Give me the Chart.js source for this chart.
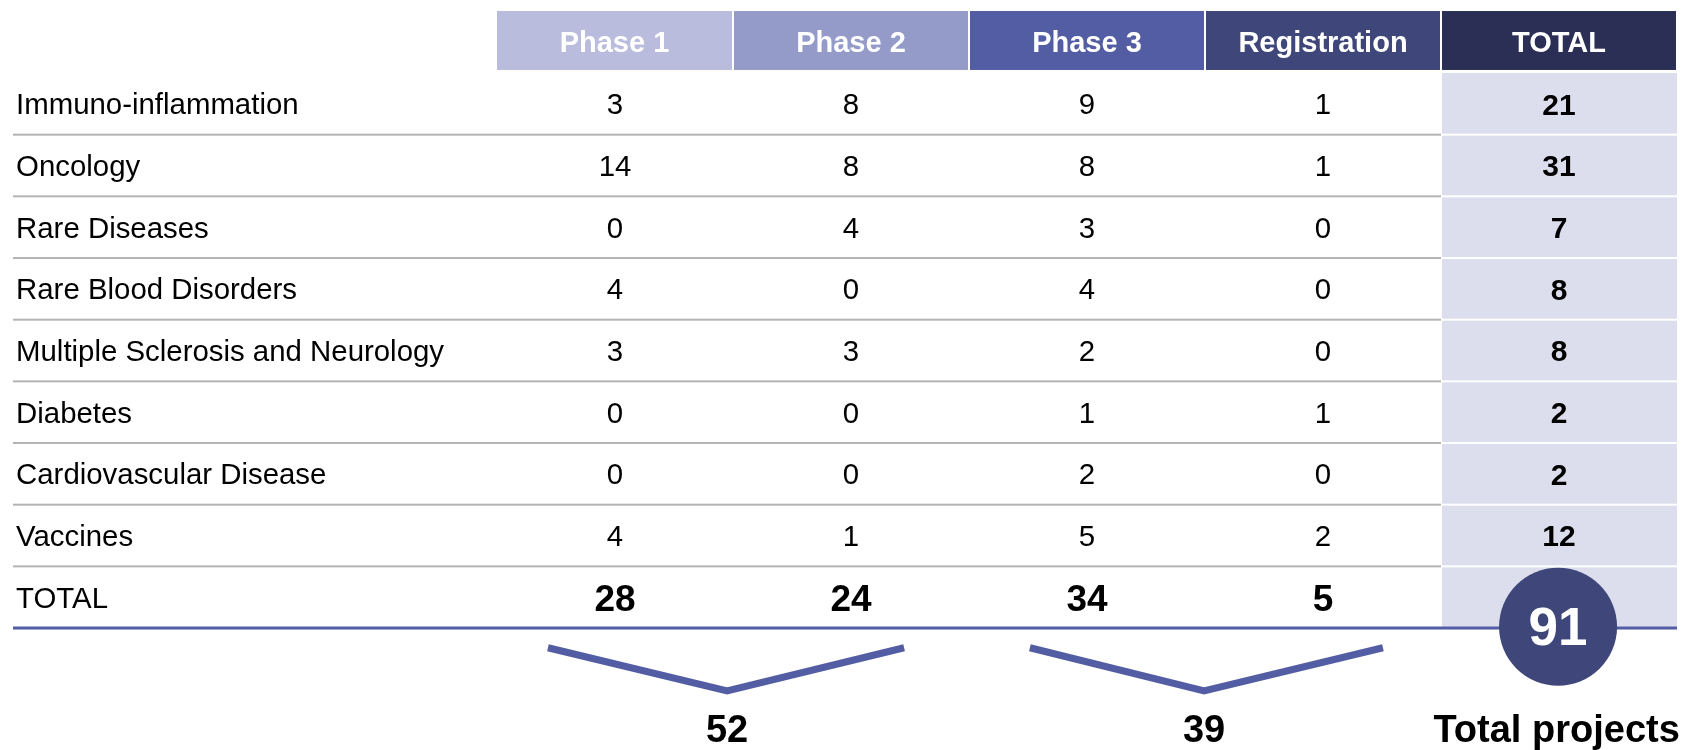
<!DOCTYPE html>
<html>
<head>
<meta charset="utf-8">
<script src="https://cdn.jsdelivr.net/npm/chart.js@4.4.1/dist/chart.umd.min.js"></script>
<style>
  html, body { margin: 0; padding: 0; background: #ffffff; }
  #wrap { width: 1687px; height: 750px; }
</style>
</head>
<body>
<div id="wrap"><canvas id="pipelineChart" width="1687" height="750"></canvas></div>
<script>
// table data
const areas = [
    "Immuno-inflammation",
    "Oncology",
    "Rare Diseases",
    "Rare Blood Disorders",
    "Multiple Sclerosis and Neurology",
    "Diabetes",
    "Cardiovascular Disease",
    "Vaccines"
];
const columns = ["Phase 1", "Phase 2", "Phase 3", "Registration", "TOTAL"];
const phase1 = [3, 14, 0, 4, 3, 0, 0, 4];
const phase2 = [8, 8, 4, 0, 3, 0, 0, 1];
const phase3 = [9, 8, 3, 4, 2, 1, 2, 5];
const registration = [1, 1, 0, 0, 0, 1, 0, 2];
const rowTotals = [21, 31, 7, 8, 8, 2, 2, 12];
const totalRowLabel = "TOTAL";
const phaseTotals = [28, 24, 34, 5];
const grandTotal = 91;
const groupTotals = [52, 39];
const grandTotalLabel = "Total projects";

const phaseValues = [phase1, phase2, phase3, registration];

// look
const FONT = "'Liberation Sans', Arial, Helvetica, sans-serif";
const headerColors = ["#b9bcdc", "#959bc8", "#525da3", "#3e467a", "#2b2f55"];
const accent = "#525da3";
const lavender = "#dcdeed";
const ruleGray = "#b4b4b4";

// brackets under the phase pairs, in scale units (x: column, y: row)
const brackets = [
    [{ x: 0.216, y: 9.32 }, { x: 0.975, y: 10.02 }, { x: 1.725, y: 9.32 }],
    [{ x: 2.258, y: 9.32 }, { x: 2.996, y: 10.02 }, { x: 3.754, y: 9.32 }]
];

const tablePlugin = {
    id: "pipelineTable",
    beforeDatasetsDraw(chart) {
        const { ctx, scales: { x, y } } = chart;
        const px = v => x.getPixelForValue(v);
        const py = v => y.getPixelForValue(v);
        const left = px(-2.051);
        const rows = areas.length + 1;

        ctx.save();

        // header
        columns.forEach((name, k) => {
            const x0 = px(k) + (k > 0 ? 1 : 0);
            const x1 = px(k + 1) - 1;
            ctx.fillStyle = headerColors[k];
            ctx.fillRect(x0, py(-1.005), x1 - x0, py(-0.049) - py(-1.005));
            ctx.fillStyle = "#ffffff";
            ctx.font = `bold 29px ${FONT}`;
            ctx.textAlign = "center";
            ctx.textBaseline = "middle";
            ctx.fillText(name, (x0 + x1) / 2, py(-0.527) + 4);
        });

        // total column background
        ctx.fillStyle = lavender;
        ctx.fillRect(px(4) + 1, py(0), px(5) - px(4) - 1, py(rows) - py(0));
        ctx.fillStyle = "#ffffff";
        for (let i = 1; i < rows; i++) {
            ctx.fillRect(px(4) + 1, py(i) - 1, px(5) - px(4) - 1, 2);
        }

        // row rules
        ctx.fillStyle = ruleGray;
        for (let i = 1; i < rows; i++) {
            ctx.fillRect(left, py(i) - 1, px(4) - left, 2);
        }
        ctx.fillStyle = accent;
        ctx.fillRect(left, py(rows) - 1.5, px(5) - left, 3);

        // row labels and values
        ctx.fillStyle = "#000000";
        ctx.textBaseline = "middle";
        areas.forEach((area, i) => {
            const cy = py(i + 0.5) + 2.5;
            ctx.font = `29.4px ${FONT}`;
            ctx.textAlign = "left";
            ctx.fillText(area, px(-2.038), cy);
            ctx.textAlign = "center";
            phaseValues.forEach((vals, k) => {
                ctx.fillText(String(vals[i]), px(k + 0.5), cy);
            });
            ctx.font = `bold 30px ${FONT}`;
            ctx.fillText(String(rowTotals[i]), px(4.5), cy);
        });

        // total row
        const ty = py(areas.length + 0.5) + 3;
        ctx.font = `29.4px ${FONT}`;
        ctx.textAlign = "left";
        ctx.fillText(totalRowLabel, px(-2.038), ty);
        ctx.font = `bold 37px ${FONT}`;
        ctx.textAlign = "center";
        phaseTotals.forEach((v, k) => ctx.fillText(String(v), px(k + 0.5), ty + 1));

        ctx.restore();
    },
    afterDatasetsDraw(chart) {
        const { ctx, scales: { x, y } } = chart;
        const px = v => x.getPixelForValue(v);
        const py = v => y.getPixelForValue(v);
        ctx.save();
        ctx.textAlign = "center";
        ctx.textBaseline = "middle";

        ctx.fillStyle = "#ffffff";
        ctx.font = `bold 53px ${FONT}`;
        ctx.fillText(String(grandTotal), px(4.496), py(9.0) + 2);

        ctx.fillStyle = "#000000";
        ctx.font = `bold 38px ${FONT}`;
        brackets.forEach((b, i) => ctx.fillText(String(groupTotals[i]), px(b[1].x), py(10.56) + 7));
        ctx.fillText(grandTotalLabel, px(4.49), py(10.56) + 7);
        ctx.restore();
    }
};

new Chart(document.getElementById("pipelineChart"), {
    type: "scatter",
    data: {
        datasets: [
            ...brackets.map(points => ({
                data: points,
                showLine: true,
                borderColor: accent,
                borderWidth: 7,
                borderJoinStyle: "miter",
                borderCapStyle: "butt",
                pointRadius: 0,
                tension: 0,
                clip: false
            })),
            {
                type: "bubble",
                data: [{ x: 4.496, y: 8.98, r: 59 }],
                backgroundColor: "#3e467a",
                borderWidth: 0,
                clip: false
            }
        ]
    },
    plugins: [tablePlugin],
    options: {
        responsive: false,
        animation: false,
        events: [],
        layout: { padding: 0, autoPadding: false },
        plugins: {
            legend: { display: false },
            tooltip: { enabled: false }
        },
        scales: {
            x: {
                type: "linear",
                display: false,
                min: -497 / 236,
                max: (1687 - 497) / 236
            },
            y: {
                type: "linear",
                display: false,
                reverse: true,
                min: -73 / 61.67,
                max: (750 - 73) / 61.67
            }
        }
    }
});
</script>
</body>
</html>
